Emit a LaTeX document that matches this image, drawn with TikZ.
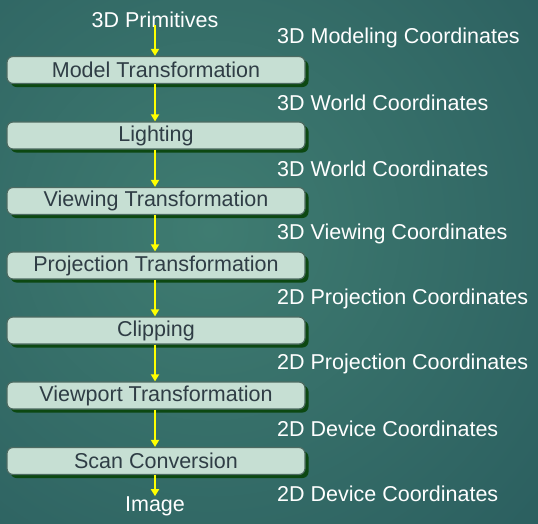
\documentclass[tikz,border=0pt]{standalone}
\usepackage{fontspec}
\setmainfont{Liberation Sans}
\usetikzlibrary{shadows,arrows.meta}
\definecolor{bgmid}{HTML}{3F7C71}
\definecolor{bgedge}{HTML}{1D4A53}
\definecolor{boxfill}{HTML}{C6DFD3}
\definecolor{boxline}{HTML}{4D6B62}
\definecolor{boxshadow}{HTML}{0C4812}
\definecolor{boxtext}{HTML}{2F3D45}
\definecolor{flow}{HTML}{FFFF00}
\tikzset{
  stage/.style={draw=boxline, line width=1.2pt, fill=boxfill, rounded corners=6pt,
    minimum width=298pt, minimum height=27pt, inner sep=0pt, text=boxtext,
    font=\fontsize{21.5}{23}\selectfont,
    drop shadow={shadow xshift=3.5pt, shadow yshift=-3.5pt, fill=boxshadow, opacity=1}},
  coordlabel/.style={anchor=west, text=white, inner sep=0pt, font=\fontsize{21.5}{23}\selectfont},
  endlabel/.style={text=white, inner sep=0pt, font=\fontsize{21.5}{23}\selectfont},
  flowarrow/.style={draw=flow, line width=2pt, -{Triangle[width=8pt,length=7pt]}}
}
\begin{document}
\begin{tikzpicture}[x=1pt, y=-1pt]
  \useasboundingbox (0,0) rectangle (538,523);
  % background gradient
  \begin{scope}
    \clip (0,0) rectangle (538,523);
    \fill[bgedge] (0,0) rectangle (538,523);
    \shade[inner color=bgmid, outer color=bgedge] (210,230) circle (760);
  \end{scope}

  % pipeline stages
  \node[stage] (s1) at (156,70)    {Model Transformation};
  \node[stage] (s2) at (156,135.5) {Lighting};
  \node[stage] (s3) at (156,201)   {Viewing Transformation};
  \node[stage] (s4) at (156,265.5) {Projection Transformation};
  \node[stage] (s5) at (156,330.5) {Clipping};
  \node[stage] (s6) at (156,395.5) {Viewport Transformation};
  \node[stage] (s7) at (156,461)   {Scan Conversion};

  % input and output
  \node[endlabel] (in)  at (155,20)  {3D Primitives};
  \node[endlabel] (out) at (155,506) {Image};
  \coordinate (inarrow) at (155,25);

  % coordinate systems between stages
  \node[coordlabel] at (277,38)  {3D Modeling Coordinates};
  \node[coordlabel] at (277,103) {3D World Coordinates};
  \node[coordlabel] at (277,169) {3D World Coordinates};
  \node[coordlabel] at (277,234) {3D Viewing Coordinates};
  \node[coordlabel] at (277,299) {2D Projection Coordinates};
  \node[coordlabel] at (277,364) {2D Projection Coordinates};
  \node[coordlabel] at (277,429) {2D Device Coordinates};
  \node[coordlabel] at (277,494) {2D Device Coordinates};

  % flow arrows
  \draw[flowarrow] (inarrow) -- (inarrow |- s1.north);
  \foreach \a/\b in {s1/s2, s2/s3, s3/s4, s4/s5, s5/s6, s6/s7} {
    \draw[flowarrow] (\a.south -| inarrow) -- (\b.north -| inarrow);
  }
  \draw[flowarrow] (s7.south -| inarrow) -- (out.north -| inarrow);
\end{tikzpicture}
\end{document}
